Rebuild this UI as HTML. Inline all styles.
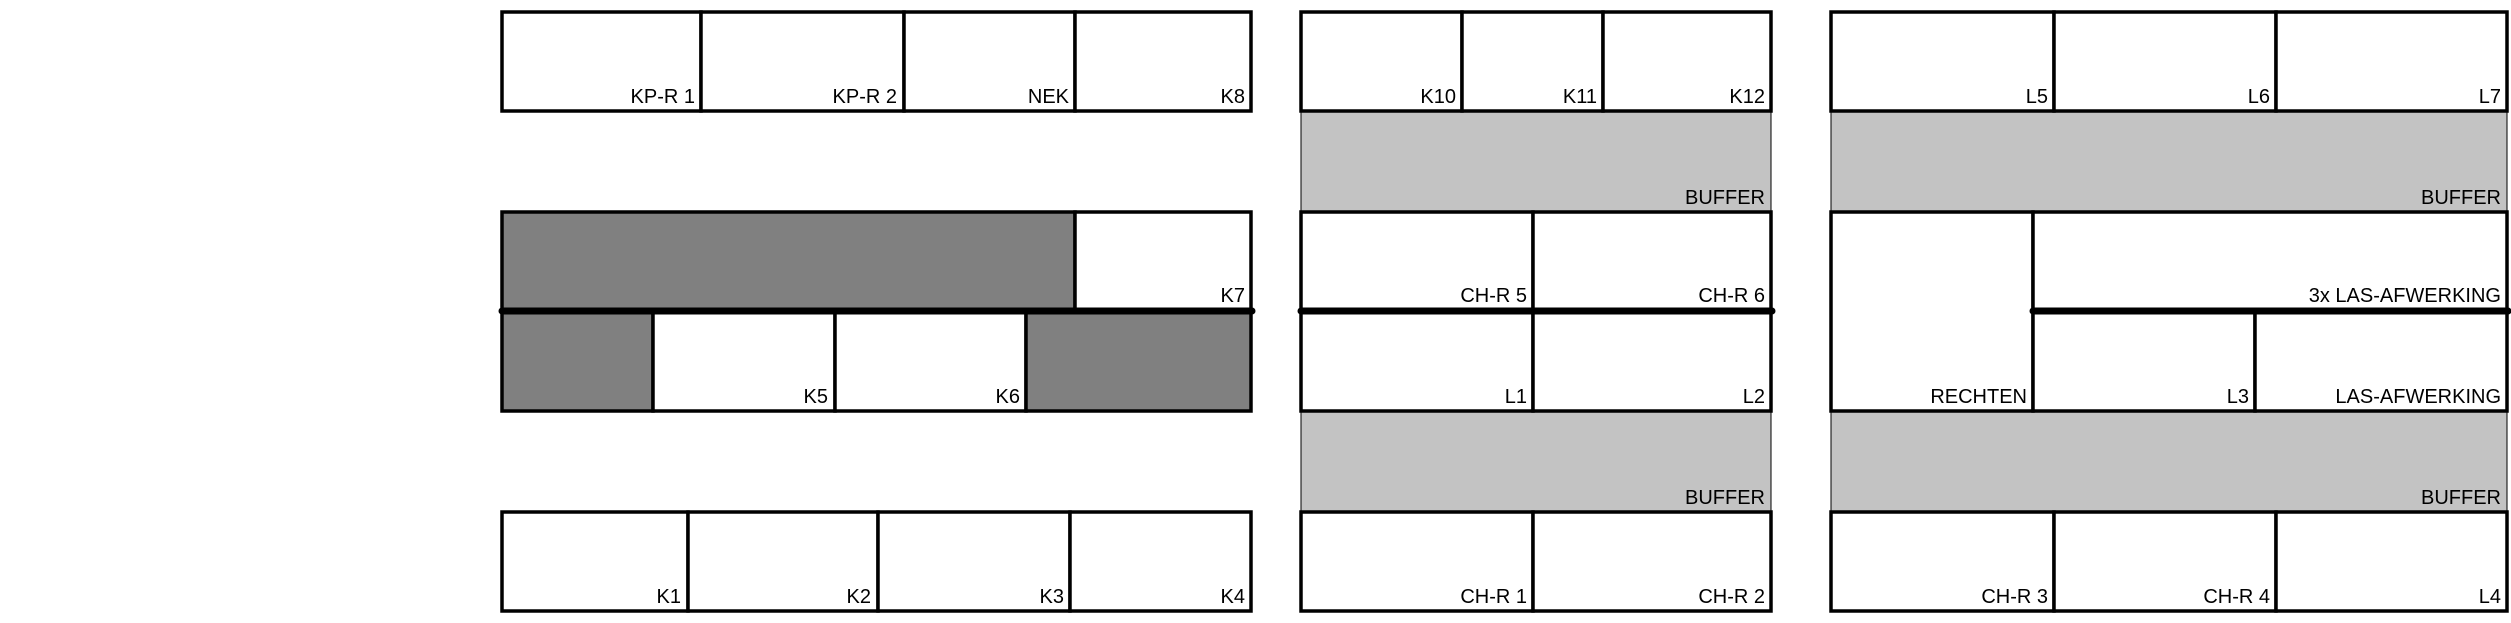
<!DOCTYPE html>
<html><head><meta charset="utf-8"><style>
html,body{margin:0;padding:0;background:#fff;}
svg{display:block;}
text{font-family:"Liberation Sans",sans-serif;font-size:20px;fill:#000;text-anchor:end;}
</style></head><body>
<svg width="2511" height="623" viewBox="0 0 2511 623">
<g stroke="#000" stroke-width="1">
<rect x="1301" y="111" width="470" height="101" fill="#c3c3c3"/>
<rect x="1301" y="411" width="470" height="101" fill="#c3c3c3"/>
<rect x="1831" y="111" width="676" height="101" fill="#c3c3c3"/>
<rect x="1831" y="411" width="676" height="101" fill="#c3c3c3"/>
</g>
<g stroke="#000" stroke-width="3.5">
<g>
<rect x="502" y="12" width="199" height="99" fill="#fff"/>
<rect x="701" y="12" width="203" height="99" fill="#fff"/>
<rect x="904" y="12" width="171" height="99" fill="#fff"/>
<rect x="1075" y="12" width="176" height="99" fill="#fff"/>
<rect x="502" y="212" width="573" height="99" fill="#808080"/>
<rect x="1075" y="212" width="176" height="99" fill="#fff"/>
<rect x="502" y="311" width="151" height="100" fill="#808080"/>
<rect x="653" y="311" width="182" height="100" fill="#fff"/>
<rect x="835" y="311" width="191" height="100" fill="#fff"/>
<rect x="1026" y="311" width="225" height="100" fill="#808080"/>
<rect x="502" y="512" width="186" height="99" fill="#fff"/>
<rect x="688" y="512" width="190" height="99" fill="#fff"/>
<rect x="878" y="512" width="192" height="99" fill="#fff"/>
<rect x="1070" y="512" width="181" height="99" fill="#fff"/>
</g>
<g fill="none">
<rect x="1301" y="12" width="161" height="99" fill="#fff"/>
<rect x="1462" y="12" width="141" height="99" fill="#fff"/>
<rect x="1603" y="12" width="168" height="99" fill="#fff"/>
<rect x="1301" y="212" width="232" height="99" fill="#fff"/>
<rect x="1533" y="212" width="238" height="99" fill="#fff"/>
<rect x="1301" y="311" width="232" height="100" fill="#fff"/>
<rect x="1533" y="311" width="238" height="100" fill="#fff"/>
<rect x="1301" y="512" width="232" height="99" fill="#fff"/>
<rect x="1533" y="512" width="238" height="99" fill="#fff"/>
</g>
<g>
<rect x="1831" y="12" width="223" height="99" fill="#fff"/>
<rect x="2054" y="12" width="222" height="99" fill="#fff"/>
<rect x="2276" y="12" width="231" height="99" fill="#fff"/>
<rect x="1831" y="212" width="202" height="199" fill="#fff"/>
<rect x="2033" y="212" width="474" height="99" fill="#fff"/>
<rect x="2033" y="311" width="222" height="100" fill="#fff"/>
<rect x="2255" y="311" width="252" height="100" fill="#fff"/>
<rect x="1831" y="512" width="223" height="99" fill="#fff"/>
<rect x="2054" y="512" width="222" height="99" fill="#fff"/>
<rect x="2276" y="512" width="231" height="99" fill="#fff"/>
</g>
</g>
<g stroke="#000" stroke-width="7" stroke-linecap="round">
<line x1="502" y1="311" x2="1252" y2="311"/>
<line x1="1301" y1="311" x2="1772" y2="311"/>
<line x1="2033" y1="311" x2="2508" y2="311"/>
</g>
<g>
<text x="695" y="103">KP-R 1</text>
<text x="897" y="103">KP-R 2</text>
<text x="1069" y="103">NEK</text>
<text x="1245" y="103">K8</text>
<text x="1245" y="302">K7</text>
<text x="828" y="403">K5</text>
<text x="1020" y="403">K6</text>
<text x="681" y="603">K1</text>
<text x="871" y="603">K2</text>
<text x="1064" y="603">K3</text>
<text x="1245" y="603">K4</text>
<text x="1456" y="103">K10</text>
<text x="1597" y="103">K11</text>
<text x="1765" y="103">K12</text>
<text x="1765" y="204">BUFFER</text>
<text x="1527" y="302">CH-R 5</text>
<text x="1765" y="302">CH-R 6</text>
<text x="1527" y="403">L1</text>
<text x="1765" y="403">L2</text>
<text x="1765" y="504">BUFFER</text>
<text x="1527" y="603">CH-R 1</text>
<text x="1765" y="603">CH-R 2</text>
<text x="2048" y="103">L5</text>
<text x="2270" y="103">L6</text>
<text x="2501" y="103">L7</text>
<text x="2501" y="204">BUFFER</text>
<text x="2501" y="302">3x LAS-AFWERKING</text>
<text x="2027" y="403">RECHTEN</text>
<text x="2249" y="403">L3</text>
<text x="2501" y="403">LAS-AFWERKING</text>
<text x="2501" y="504">BUFFER</text>
<text x="2048" y="603">CH-R 3</text>
<text x="2270" y="603">CH-R 4</text>
<text x="2501" y="603">L4</text>
</g>
</svg>
</body></html>
